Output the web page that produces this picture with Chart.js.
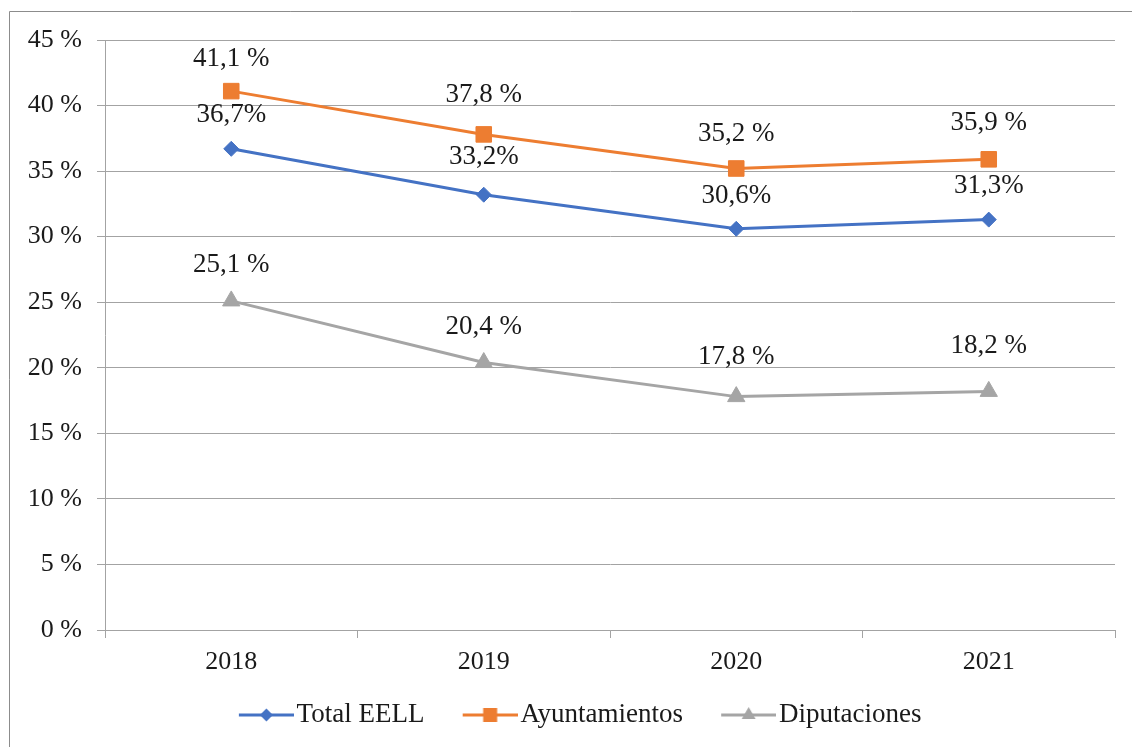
<!DOCTYPE html>
<html><head><meta charset="utf-8">
<script src="https://cdn.jsdelivr.net/npm/chart.js@4"></script>
<style>html,body{margin:0;padding:0;background:#fff}#wrap{width:1132px;height:747px;position:relative}</style>
</head><body><div id="wrap"><canvas id="c" width="1132" height="747"></canvas></div>
<script>
const years = ['2018', '2019', '2020', '2021'];
const seriesNames = ['Total EELL', 'Ayuntamientos', 'Diputaciones'];
const totalEELL = [36.7, 33.2, 30.6, 31.3];
const ayuntamientos = [41.1, 37.8, 35.2, 35.9];
const diputaciones = [25.1, 20.4, 17.8, 18.2];
const yTickValues = [0, 5, 10, 15, 20, 25, 30, 35, 40, 45];
const labelSuffix = ['%', ' %', ' %'];

const colors = ['#4472C4', '#ED7D31', '#A5A5A5'];
const pointStyles = ['rectRot', 'rect', 'triangle'];
const pointRadii = [7.5, 11, 10];
const GRID = '#a3a3a3';
const FONT = "'Liberation Serif', 'Times New Roman', serif";

Chart.defaults.font.family = FONT;
Chart.defaults.font.size = 26;
Chart.defaults.color = '#1a1a1a';

function legendImage(i) {
  const W = 94, H = 22;
  const cv = document.createElement('canvas');
  cv.width = W; cv.height = H;
  const g = cv.getContext('2d');
  const x0 = W - 55, cy = H / 2, cx = W - 27.5;
  g.strokeStyle = colors[i]; g.lineWidth = 3;
  g.beginPath(); g.moveTo(x0, cy); g.lineTo(W, cy); g.stroke();
  g.fillStyle = colors[i];
  g.beginPath();
  if (i === 0) {
    const r = 6.5;
    g.moveTo(cx, cy - r); g.lineTo(cx + r, cy); g.lineTo(cx, cy + r); g.lineTo(cx - r, cy); g.closePath();
  } else if (i === 1) {
    g.rect(cx - 7, cy - 7, 14, 14);
  } else {
    const r = 8;
    g.moveTo(cx, cy - r); g.lineTo(cx + r * 0.866, cy + r / 2); g.lineTo(cx - r * 0.866, cy + r / 2); g.closePath();
  }
  g.fill();
  return cv;
}
const legendImages = [0, 1, 2].map(legendImage);

const pageFrame = {
  id: 'pageFrame',
  beforeDraw(chart) {
    const ctx = chart.ctx;
    ctx.save();
    ctx.strokeStyle = '#8c8c8c';
    ctx.lineWidth = 1;
    ctx.beginPath();
    ctx.moveTo(9.5, 747); ctx.lineTo(9.5, 11.5); ctx.lineTo(1132, 11.5);
    ctx.stroke();
    ctx.restore();
  }
};

const pointLabels = {
  id: 'pointLabels',
  afterDatasetsDraw(chart, args, opts) {
    const ctx = chart.ctx;
    ctx.save();
    ctx.font = "27px " + FONT;
    ctx.fillStyle = '#1a1a1a';
    ctx.textAlign = 'center';
    ctx.textBaseline = 'middle';
    chart.data.datasets.forEach((ds, di) => {
      const meta = chart.getDatasetMeta(di);
      meta.data.forEach((pt, j) => {
        const v = ds.data[j];
        const txt = v.toFixed(1).replace('.', ',') + labelSuffix[di];
        const off = opts.offsets[di][j];
        ctx.fillText(txt, pt.x, pt.y - off);
      });
    });
    ctx.restore();
  }
};

const seriesData = [totalEELL, ayuntamientos, diputaciones];

new Chart(document.getElementById('c'), {
  type: 'line',
  data: {
    labels: years,
    datasets: seriesNames.map((name, i) => ({
      label: name,
      data: seriesData[i],
      borderColor: colors[i],
      backgroundColor: colors[i],
      borderWidth: 3,
      pointStyle: pointStyles[i],
      pointRadius: pointRadii[i],
      pointHoverRadius: pointRadii[i],
      pointBackgroundColor: colors[i],
      pointBorderColor: colors[i],
      pointBorderWidth: 1,
      tension: 0,
      fill: false
    }))
  },
  options: {
    responsive: false,
    animation: false,
    devicePixelRatio: 1,
    layout: { padding: { left: 17, right: 17, top: 40, bottom: 8.5 } },
    scales: {
      x: {
        type: 'category',
        offset: true,
        grid: { display: true, offset: true, drawOnChartArea: false, drawTicks: true, tickLength: 8, color: GRID },
        border: { display: true, color: GRID, width: 1 },
        ticks: { padding: 9, font: { size: 26 }, color: '#1a1a1a' },
        afterFit(scale) { scale.height = 61.5; }
      },
      y: {
        min: 0,
        max: 45,
        afterBuildTicks(scale) { scale.ticks = yTickValues.map(v => ({ value: v })); },
        grid: { color: GRID, tickLength: 8, drawTicks: true },
        border: { display: true, color: GRID, width: 1 },
        ticks: { padding: 15, font: { size: 26 }, color: '#1a1a1a', callback: v => v + ' %' },
        afterFit(scale) { scale.width = 88; }
      }
    },
    plugins: {
      legend: {
        display: true,
        position: 'bottom',
        labels: {
          usePointStyle: true,
          pointStyleWidth: 72.5,
          padding: 10,
          font: { size: 27 },
          color: '#1a1a1a',
          generateLabels(chart) {
            const items = Chart.defaults.plugins.legend.labels.generateLabels(chart);
            items.forEach((it, i) => { it.pointStyle = legendImages[i]; });
            return items;
          }
        }
      },
      tooltip: { enabled: false },
      pointLabels: {
        offsets: [[34, 38, 33, 34], [32, 39, 34.5, 36], [36, 35.5, 40, 45]]
      }
    }
  },
  plugins: [pageFrame, pointLabels]
});
</script>
</body></html>
